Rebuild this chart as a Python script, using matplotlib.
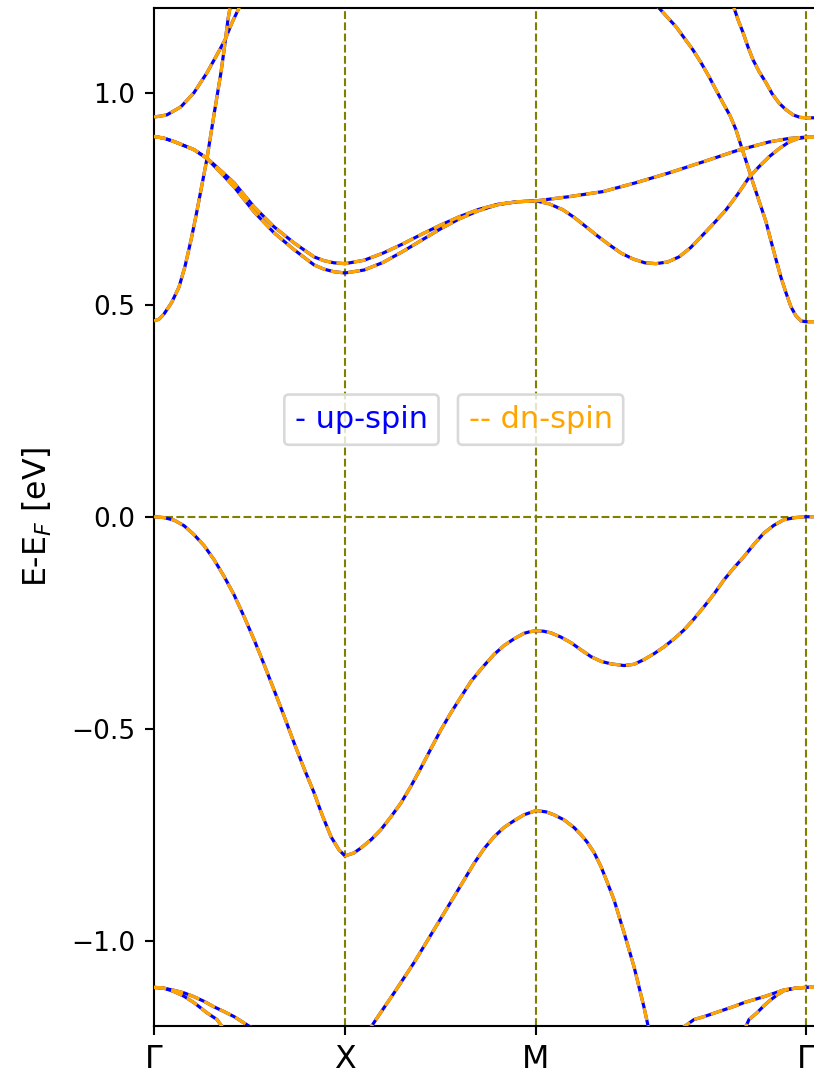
import matplotlib
matplotlib.use("Agg")
import matplotlib.pyplot as plt

# High-symmetry points along the path (Gamma-X-M-Gamma)
k_ticks = [0.0, 1.0, 2.0, 3.414]
k_labels = ["Γ", "X", "M", "Γ"]

# Valence bands
v1_k = [0.0, 0.052, 0.105, 0.157, 0.209, 0.262, 0.314, 0.366, 0.419, 0.471, 0.524, 0.576,
        0.628, 0.681, 0.733, 0.785, 0.838, 0.880, 0.927, 0.969, 1.0,
        1.047, 1.084, 1.136, 1.188, 1.240, 1.293, 1.346, 1.398, 1.450, 1.503, 1.555,
        1.607, 1.660, 1.728, 1.780, 1.832, 1.885, 1.937, 1.970, 2.0,
        2.040, 2.079, 2.131, 2.183, 2.236, 2.288, 2.340, 2.393, 2.461, 2.513, 2.565,
        2.618, 2.670, 2.723, 2.775, 2.827, 2.880, 2.932, 2.984, 3.037, 3.089, 3.141,
        3.194, 3.246, 3.298, 3.356, 3.414, 3.46]
v1_e = [0.0, -0.002, -0.008, -0.021, -0.042, -0.068, -0.101, -0.140, -0.184, -0.235, -0.290, -0.348,
        -0.408, -0.470, -0.533, -0.593, -0.651, -0.703, -0.755, -0.786, -0.800,
        -0.793, -0.781, -0.762, -0.738, -0.708, -0.675, -0.635, -0.592, -0.547, -0.502, -0.462,
        -0.425, -0.388, -0.351, -0.325, -0.304, -0.288, -0.275, -0.271, -0.269,
        -0.270, -0.274, -0.284, -0.297, -0.314, -0.330, -0.341, -0.347, -0.351, -0.348, -0.337,
        -0.323, -0.307, -0.288, -0.267, -0.241, -0.212, -0.182, -0.149, -0.120, -0.094, -0.065,
        -0.038, -0.020, -0.007, -0.002, 0.0, 0.0]

v2_k = [1.110, 1.162, 1.257, 1.361, 1.466, 1.571, 1.675, 1.728, 1.780, 1.832, 1.885, 1.937, 2.0,
        2.052, 2.094, 2.147, 2.199, 2.236, 2.267, 2.304, 2.340, 2.372, 2.408, 2.461, 2.513,
        2.565, 2.597]
v2_e = [-1.222, -1.186, -1.123, -1.052, -0.974, -0.896, -0.818, -0.783, -0.755, -0.733, -0.717, -0.703, -0.693,
        -0.696, -0.703, -0.715, -0.733, -0.750, -0.767, -0.792, -0.825, -0.861, -0.903, -0.981, -1.061,
        -1.156, -1.222]

l1_k = [0.0, 0.052, 0.105, 0.157, 0.209, 0.262, 0.314, 0.366, 0.419, 0.503, 0.565]
l1_e = [-1.110, -1.112, -1.117, -1.123, -1.132, -1.143, -1.156, -1.167, -1.179, -1.203, -1.222]
l2_k = [0.0, 0.052, 0.105, 0.157, 0.209, 0.277, 0.330, 0.387]
l2_e = [-1.110, -1.112, -1.120, -1.131, -1.146, -1.170, -1.186, -1.222]

r1_k = [2.754, 2.827, 2.880, 2.932, 2.984, 3.037, 3.089, 3.141, 3.194, 3.246, 3.298, 3.356, 3.414, 3.46]
r1_e = [-1.210, -1.186, -1.179, -1.171, -1.163, -1.155, -1.146, -1.139, -1.132, -1.124, -1.116, -1.112, -1.110, -1.110]
r2_k = [3.079, 3.115, 3.157, 3.194, 3.230, 3.265, 3.298, 3.356, 3.414, 3.46]
r2_e = [-1.222, -1.186, -1.170, -1.153, -1.139, -1.127, -1.118, -1.112, -1.110, -1.110]

# Conduction bands
ca_k = [0.0, 0.026, 0.052, 0.092, 0.131, 0.162, 0.194, 0.220, 0.246, 0.277, 0.314,
        0.351, 0.372, 0.387, 0.401, 0.408]
ca_e = [0.462, 0.466, 0.478, 0.505, 0.542, 0.590, 0.653, 0.710, 0.771, 0.844, 0.948,
        1.049, 1.118, 1.172, 1.208, 1.231]

cb_k = [0.0, 0.034, 0.068, 0.141, 0.209, 0.277, 0.330, 0.372, 0.408, 0.445, 0.471]
cb_e = [0.943, 0.945, 0.948, 0.967, 1.000, 1.047, 1.090, 1.125, 1.165, 1.200, 1.226]

cc_k = [0.0, 0.052, 0.105, 0.209, 0.277, 0.346, 0.419, 0.524, 0.628, 0.733, 0.838, 0.890, 0.942, 1.0,
        1.1, 1.2, 1.3, 1.4, 1.5, 1.6, 1.7, 1.8, 1.9, 2.0,
        2.173, 2.351, 2.524, 2.696, 2.874, 3.047, 3.220, 3.320, 3.398, 3.414, 3.46]
cc_e = [0.897, 0.893, 0.885, 0.866, 0.846, 0.818, 0.788, 0.731, 0.684, 0.646, 0.613, 0.604, 0.599, 0.597,
        0.605, 0.622, 0.643, 0.666, 0.688, 0.708, 0.725, 0.737, 0.743, 0.745,
        0.755, 0.767, 0.788, 0.811, 0.837, 0.863, 0.884, 0.892, 0.895, 0.895, 0.895]

cd_k = [0.0, 0.052, 0.105, 0.209, 0.277, 0.346, 0.419, 0.524, 0.628, 0.733, 0.838, 0.890, 0.942, 1.0,
        1.1, 1.2, 1.3, 1.4, 1.5, 1.6, 1.7, 1.8, 1.9, 2.0,
        2.070, 2.141, 2.200, 2.262, 2.320, 2.382, 2.445, 2.508, 2.570, 2.628, 2.690, 2.749,
        2.810, 2.874, 2.935, 2.995, 3.055, 3.115, 3.168, 3.220, 3.272, 3.325, 3.370, 3.414, 3.46]
cd_e = [0.897, 0.893, 0.885, 0.866, 0.845, 0.813, 0.778, 0.719, 0.670, 0.630, 0.594, 0.584, 0.578, 0.575,
        0.582, 0.600, 0.625, 0.652, 0.679, 0.703, 0.722, 0.736, 0.743, 0.745,
        0.738, 0.724, 0.706, 0.684, 0.663, 0.642, 0.622, 0.608, 0.599, 0.597, 0.601, 0.613,
        0.635, 0.665, 0.694, 0.724, 0.760, 0.800, 0.826, 0.849, 0.868, 0.884, 0.892, 0.895, 0.895]

s1_k = [2.586, 2.644, 2.686, 2.733, 2.775, 2.822, 2.864, 2.906, 2.942, 2.979, 3.016, 3.047,
        3.068, 3.089, 3.115, 3.141, 3.173, 3.204, 3.230, 3.257, 3.283, 3.309, 3.335,
        3.361, 3.387, 3.414, 3.46]
s1_e = [1.226, 1.200, 1.179, 1.156, 1.130, 1.101, 1.071, 1.038, 1.007, 0.976, 0.946, 0.913,
        0.883, 0.854, 0.818, 0.781, 0.738, 0.696, 0.651, 0.606, 0.564, 0.528, 0.495,
        0.474, 0.462, 0.460, 0.460]

s2_k = [3.021, 3.037, 3.058, 3.084, 3.110, 3.136, 3.168, 3.204, 3.236, 3.272, 3.309, 3.346, 3.382, 3.414, 3.46]
s2_e = [1.226, 1.200, 1.172, 1.142, 1.108, 1.078, 1.050, 1.024, 0.998, 0.976, 0.960, 0.948, 0.942, 0.941, 0.941]

bands = [(v1_k, v1_e), (v2_k, v2_e), (l1_k, l1_e), (l2_k, l2_e), (r1_k, r1_e),
         (r2_k, r2_e), (ca_k, ca_e), (cb_k, cb_e), (cc_k, cc_e), (cd_k, cd_e),
         (s1_k, s1_e), (s2_k, s2_e)]

DPI = 190
fig = plt.figure(figsize=(814 / DPI, 1072 / DPI), dpi=DPI)
ax = fig.add_axes([154 / 814, 46.5 / 1072, (840 - 154) / 814, 1017.5 / 1072])

ref = dict(color="olive", ls="--", lw=0.8, zorder=1)
for kt in k_ticks[1:]:
    ax.axvline(kt, **ref)
ax.hlines(0.0, 0.0, k_ticks[-1], **ref)

# spin-up (solid) and spin-down (dashed) bands
for k, e in bands:
    ax.plot(k, e, color="blue", ls="-", lw=1.2, zorder=2)
for k, e in bands:
    ax.plot(k, e, color="orange", ls="--", lw=1.25, zorder=3)

ax.set_xlim(0, (840 - 154) / 191)
ax.set_ylim(-1.2, 1.2)
ax.set_xticks(k_ticks)
ax.set_xticklabels(k_labels, fontsize=12)
ax.tick_params(axis="y", labelsize=10)
ax.set_ylabel("E-E$_F$ [eV]", fontsize=12, labelpad=6.5)

box = dict(boxstyle="round,pad=0.35,rounding_size=0.15", facecolor=(1, 1, 1, 0.8),
           edgecolor="0.85", lw=1.0)
ax.text(1.086, 0.229, "- up-spin", color="blue", fontsize=11.5,
        ha="center", va="center", bbox=box, zorder=5)
ax.text(2.024, 0.229, "-- dn-spin", color="orange", fontsize=11.5,
        ha="center", va="center", bbox=box, zorder=5)

fig.savefig("out.png", dpi=DPI)
